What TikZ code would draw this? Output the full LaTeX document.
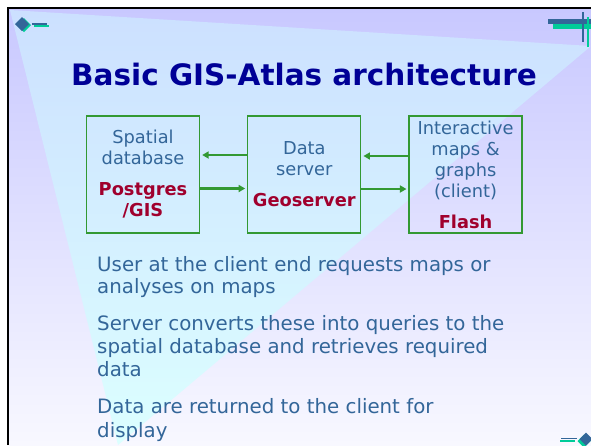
\documentclass[tikz,border=0pt]{standalone}
\usepackage{fontspec}
\setmainfont{DejaVu Sans}
\usepackage{tikz}
\usetikzlibrary{arrows.meta,positioning}

\definecolor{titleblue}{RGB}{0,0,150}
\definecolor{textblue}{RGB}{51,102,153}
\definecolor{darkred}{RGB}{160,0,45}
\definecolor{boxgreen}{RGB}{51,153,51}
\definecolor{decoblue}{RGB}{51,102,153}
\definecolor{decoteal}{RGB}{0,204,153}
\definecolor{lavtop}{RGB}{200,200,255}
\definecolor{lavbot}{RGB}{248,248,255}
\definecolor{tritop}{RGB}{204,224,255}
\definecolor{tribot}{RGB}{220,255,255}

\newcommand{\techname}[1]{\textcolor{darkred}{\bfseries #1}}

\begin{document}
\begin{tikzpicture}[x=1pt,y=-1pt,
    box/.style={draw=boxgreen,line width=1.3pt,minimum width=113pt,minimum height=117pt,inner sep=1pt,align=center,text=textblue,font=\fontsize{17.8}{21}\selectfont},
    flow/.style={-{Triangle[length=6.5pt,width=7pt]},line width=2.2pt,boxgreen,shorten >=2pt},
    txt/.style={anchor=base west,inner sep=0pt,text=textblue,font=\fontsize{19.8}{23}\selectfont}
  ]
    \useasboundingbox (0,0) rectangle (591,445);
    % slide background
    \shade[top color=lavtop,bottom color=lavbot] (8,8) rectangle (591,445);
    \shade[top color=tritop,bottom color=tribot] (10,10) -- (591,46) -- (118,445) -- cycle;
    \draw[line width=2.5pt] (8,445) -- (8,8) -- (591,8);
    % corner marks
    \fill[decoteal] (24,18) -- (31,25) -- (24,32) -- (17,25) -- cycle;
    \fill[decoblue] (22,17) -- (29,24) -- (22,31) -- (15,24) -- cycle;
    \draw[decoteal,line width=1.5pt] (34,26) -- (49,26);
    \draw[decoblue,line width=1.5pt] (32,24) -- (47,24);
    \draw[decoblue,line width=4.5pt] (548,21.5) -- (591,21.5);
    \draw[decoteal,line width=4.5pt] (553,26.5) -- (591,26.5);
    \draw[decoblue,line width=1.8pt] (583,12) -- (583,42);
    \draw[decoteal,line width=1.8pt] (588,17) -- (588,47);
    \fill[decoteal] (584,434.5) -- (590.5,441) -- (584,447.5) -- (577.5,441) -- cycle;
    \fill[decoblue] (586,432.5) -- (592.5,439) -- (586,445.5) -- (579.5,439) -- cycle;
    \draw[decoteal,line width=1.5pt] (560,441) -- (575,441);
    \draw[decoblue,line width=1.5pt] (561,438.5) -- (577,438.5);

    \node[text=titleblue,font=\fontsize{29.5}{35}\selectfont\bfseries,anchor=base] (title) at (304,85) {Basic GIS-Atlas architecture};

    \node[box] (db) at (143,174.5) {Spatial\\database\\[10pt]\techname{Postgres}\\\techname{/GIS}};
    \node[box,right=47pt of db] (srv) {Data\\server\\[10pt]\techname{Geoserver}};
    \node[box,right=47pt of srv] (cli) {Interactive\\maps \&\\graphs\\(client)\\[10pt]\techname{Flash}};

    \draw[flow] ([yshift=19.5pt]srv.west) -- ([yshift=19.5pt]db.east);
    \draw[flow] ([yshift=-14pt]db.east) -- ([yshift=-14pt]srv.west);
    \draw[flow] ([yshift=18.5pt]cli.west) -- ([yshift=18.5pt]srv.east);
    \draw[flow] ([yshift=-14.5pt]srv.east) -- ([yshift=-14.5pt]cli.west);

    \foreach \ty/\msg [count=\i] in {271/User at the client end requests maps or,
        293/analyses on maps,
        330/Server converts these into queries to the,
        353/spatial database and retrieves required,
        376/data,
        413/Data are returned to the client for,
        437/display}
      \node[txt] (line\i) at (97,\ty) {\msg};
\end{tikzpicture}
\end{document}
